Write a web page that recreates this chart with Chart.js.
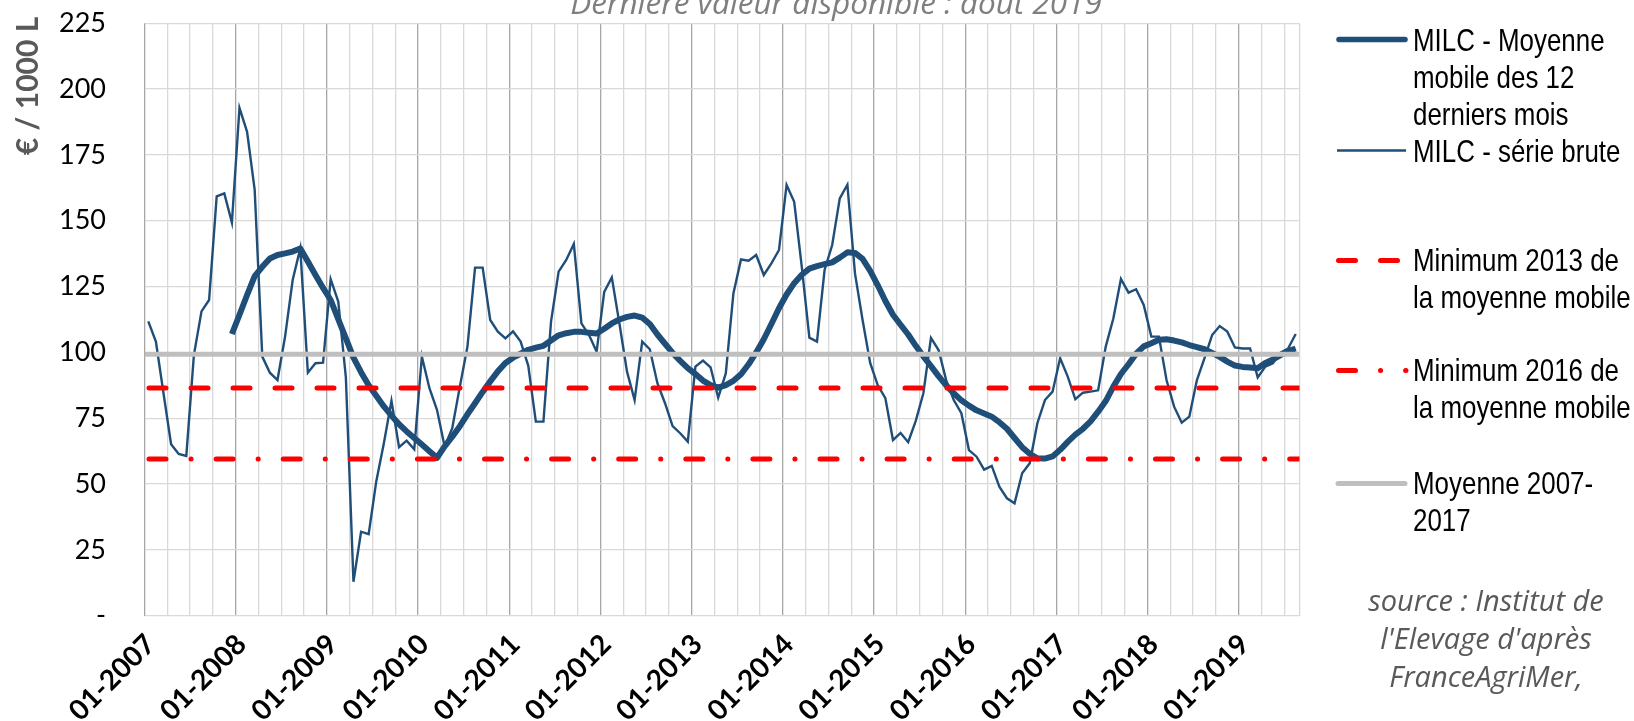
<!DOCTYPE html>
<html>
<head>
<meta charset="utf-8">
<script src="https://cdn.jsdelivr.net/npm/chart.js@4.4.0/dist/chart.umd.min.js"></script>
<style>
  html, body { margin: 0; padding: 0; background: #fff; }
  #wrap { position: relative; width: 1634px; height: 721px; overflow: hidden; }
  #chart { position: absolute; left: 0; top: 0; }
  .subtitle { position: absolute; top: -16.5px; left: 836px; transform: translateX(-50%);
    font: italic 31.5px "Open Sans"; line-height: 36px; color: #7f7f7f; white-space: nowrap; }
  .ytitle { position: absolute; left: 26px; top: 86px; transform: translate(-50%, -50%) rotate(-90deg);
    font: bold 30px Lato; line-height: 30px; color: #595959; white-space: nowrap; }
  .leg { position: absolute; left: 1413px; font: 32px "Liberation Sans"; line-height: 37px; color: #000;
    white-space: nowrap; transform: scaleX(0.81); transform-origin: 0 0; }
  .source { position: absolute; left: 1486px; top: 580.5px; transform: translateX(-50%); text-align: center;
    font: italic 29px "Open Sans"; line-height: 38px; color: #595959; white-space: nowrap; }
  #swatches { position: absolute; left: 0; top: 0; }
</style>
</head>
<body>
<div id="wrap">
  <canvas id="chart" width="1634" height="721"></canvas>
  <div class="subtitle">Dernière valeur disponible : août 2019</div>
  <div class="ytitle">€ / 1000 L</div>
  <svg id="swatches" width="1634" height="721">
    <line x1="1339" y1="39.6" x2="1405" y2="39.6" stroke="#1F4E79" stroke-width="5.5" stroke-linecap="round"/>
    <line x1="1337" y1="150.5" x2="1406" y2="150.5" stroke="#1F4E79" stroke-width="2.4"/>
    <line x1="1338.5" y1="260.5" x2="1406" y2="260.5" stroke="#FF0000" stroke-width="5" stroke-linecap="round" stroke-dasharray="17 25"/>
    <line x1="1338.5" y1="370.5" x2="1406" y2="370.5" stroke="#FF0000" stroke-width="5" stroke-linecap="round" stroke-dasharray="17 25 0.1 25"/>
    <line x1="1338" y1="483.5" x2="1405" y2="483.5" stroke="#BFBFBF" stroke-width="5" stroke-linecap="round"/>
  </svg>
  <div class="leg" style="top:21.5px">MILC - Moyenne<br>mobile des 12<br>derniers mois<br>MILC - série brute</div>
  <div class="leg" style="top:242.4px">Minimum 2013 de<br>la moyenne mobile</div>
  <div class="leg" style="top:352.4px">Minimum 2016 de<br>la moyenne mobile</div>
  <div class="leg" style="top:465.4px">Moyenne 2007-<br>2017</div>
  <div class="source">source : Institut de<br>l'Elevage d'après<br>FranceAgriMer,</div>
</div>
<script>
// tick labels, one per January (01-2007 .. 01-2019)
const yearLabels = ['01-2007', '01-2008', '01-2009', '01-2010', '01-2011', '01-2012', '01-2013',
  '01-2014', '01-2015', '01-2016', '01-2017', '01-2018', '01-2019'];

// monthly raw series, 01-2007 .. 08-2019 (€ / 1000 L)
const rawSeries = [
  111.8, 104.1, 84.5, 65.1, 61.4, 60.7, 99, 115.6, 119.9, 159.3, 160.4, 149.3,
  192.9, 183.8, 161.7, 98.4, 92.3, 89.5, 106, 127.5, 139.5, 92.3, 95.9, 96.1,
  127.8, 119.3, 90.5, 12.9, 31.9, 31, 51, 65.5, 81.6, 64, 66.5, 63.2,
  98.4, 86.4, 78.1, 64.2, 71.2, 87, 102.2, 132.2, 132.2, 112.3, 107.9, 105.3,
  108, 104.1, 95, 73.7, 73.7, 111.7, 130.7, 135.1, 141.2, 111, 106.6, 100.3,
  123, 128.5, 111, 92.7, 81.9, 104.1, 101.2, 88.3, 80.7, 72, 69.3, 66.1,
  94.6, 96.9, 94.3, 82.8, 92, 122.4, 135.3, 134.8, 137, 129.4, 133.8, 138.9,
  163.6, 157.2, 132.5, 105.6, 104.1, 131.3, 140.8, 158.5, 163.7, 130, 112.3, 96,
  87.5, 82.6, 66.7, 69.4, 65.9, 74, 84.5, 105.5, 100.9, 89.5, 81.9, 76.9,
  62.9, 60.4, 55.5, 56.9, 49, 44.6, 42.7, 54.1, 57.9, 73.1, 81.9, 85.1,
  97.8, 90.8, 82.2, 84.7, 85.1, 85.6, 102.2, 112.9, 127.9, 122.7, 124, 118,
  106, 106, 89.5, 79.4, 73.3, 75.6, 89.5, 97.8, 106.6, 110, 107.9, 101.9,
  101.5, 101.5, 90.5, 94.6, 95.9, 99.9, 101.5, 107
];

// 12-month moving average (starts 12-2007)
const movingAvg = [
  null, null, null, null, null, null, null, null, null, null, null, 107,
  114.3, 121.8, 129, 132.5, 135.7, 137, 137.6, 138.3, 139.5, 134.5, 129.4, 124.5,
  119.9, 112.6, 105.3, 98, 92.5, 87.5, 83.5, 79.5, 76, 72.7, 70, 67.5,
  65, 62.5, 60, 64.3, 68, 72, 76.5, 80.7, 85, 89, 92.8, 96,
  98, 99.5, 101, 101.8, 102.5, 104.5, 106.5, 107.3, 107.8, 107.8, 107.5, 107.2,
  109, 111, 112.5, 113.5, 114, 113.2, 110.8, 106.8, 103.3, 99.8, 96.8, 94,
  91.8, 89.3, 87.6, 86.6, 87.6, 89.2, 91.7, 95.5, 100, 105, 110.8, 116.8,
  122, 126.3, 129.5, 131.8, 132.8, 133.5, 134.2, 136, 138, 137.8, 135.5, 131,
  125.5, 119.5, 114.3, 110.5, 106.8, 102.5, 98.5, 94.8, 91, 87.5, 84.5, 81.8,
  79.8, 78, 76.8, 75.6, 73.5, 71, 67.5, 64, 61.5, 59.8, 59.7, 60.5,
  63, 66, 68.8, 71, 73.8, 77.5, 81.5, 87, 91.8, 95.5, 99.5, 102.3,
  103.5, 104.8, 105, 104.5, 103.8, 102.8, 102, 101.2, 99.8, 98.3, 96.5, 95,
  94.5, 94.3, 94, 96, 97.3, 99, 100.5, 101.5
];

// reference levels
const min2013 = 86.5;
const min2016 = 59.5;
const mean20072017 = 99.3;

const nMonths = rawSeries.length;
const toPoints = (arr) => arr.map((v, i) => ({ x: i + 0.5, y: v }));
const flat = (v) => [{ x: 0, y: v }, { x: nMonths, y: v }];

const quarterTicks = [];
for (let m = 0; m <= nMonths; m += 3) quarterTicks.push(m);
if (nMonths % 3) quarterTicks.push(nMonths);

new Chart(document.getElementById('chart'), {
  type: 'line',
  data: {
    datasets: [
      { label: 'MILC - Moyenne mobile des 12 derniers mois', data: toPoints(movingAvg),
        borderColor: '#1F4E79', borderWidth: 6, borderJoinStyle: 'round', order: 5 },
      { label: 'MILC - série brute', data: toPoints(rawSeries),
        borderColor: '#1F4E79', borderWidth: 2.4, order: 4 },
      { label: 'Minimum 2013 de la moyenne mobile', data: flat(min2013),
        borderColor: '#FF0000', borderWidth: 5, borderDash: [17, 25], borderDashOffset: -4.5,
        borderCapStyle: 'round', clip: 0, order: 3 },
      { label: 'Minimum 2016 de la moyenne mobile', data: flat(min2016),
        borderColor: '#FF0000', borderWidth: 5, borderDash: [17, 25, 0.1, 25], borderDashOffset: -4.5,
        borderCapStyle: 'round', clip: 0, order: 2 },
      { label: 'Moyenne 2007-2017', data: flat(mean20072017),
        borderColor: '#BFBFBF', borderWidth: 5, clip: 0, order: 1 },
    ],
  },
  options: {
    responsive: false,
    animation: false,
    elements: { point: { radius: 0 }, line: { tension: 0 } },
    layout: { padding: { top: 23.3, right: 334.5, bottom: 0, left: 0 } },
    plugins: { legend: { display: false }, tooltip: { enabled: false } },
    scales: {
      x: {
        type: 'linear',
        min: 0,
        max: nMonths,
        afterBuildTicks: (scale) => { scale.ticks = quarterTicks.map((v) => ({ value: v })); },
        afterFit: (scale) => { scale.height = 105.3; },
        grid: {
          color: (ctx) => (ctx.tick && ctx.tick.value % 12 === 0 && ctx.tick.value < nMonths ? '#A6A6A6' : '#D9D9D9'),
          lineWidth: 1.3,
          drawTicks: false,
        },
        border: { display: false },
        ticks: {
          autoSkip: false,
          minRotation: 45,
          maxRotation: 45,
          padding: 12,
          labelOffset: 6,
          color: '#000',
          font: { family: 'Lato', size: 28, weight: 'bold' },
          callback: (v) => (v % 12 === 0 && v / 12 < yearLabels.length ? yearLabels[v / 12] : ''),
        },
      },
      y: {
        min: 0,
        max: 225,
        afterFit: (scale) => { scale.width = 144.5; },
        grid: { color: '#D9D9D9', lineWidth: 1.3, drawTicks: true, tickLength: 38.5, tickColor: 'rgba(0,0,0,0)' },
        border: { display: false },
        ticks: {
          stepSize: 25,
          padding: 0,
          color: '#000',
          font: { family: 'Lato', size: 27 },
          callback: (v) => (v === 0 ? '-' : v),
        },
      },
    },
  },
});
</script>
</body>
</html>
